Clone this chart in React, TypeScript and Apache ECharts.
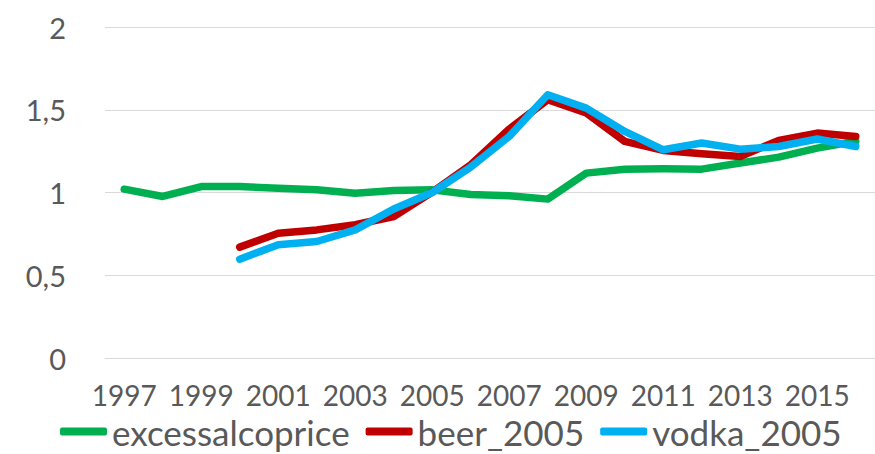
import React, { useEffect, useRef } from "react";
import * as echarts from "echarts";

const years = [
  "1997", "1998", "1999", "2000", "2001", "2002", "2003", "2004", "2005", "2006",
  "2007", "2008", "2009", "2010", "2011", "2012", "2013", "2014", "2015", "2016",
];
const excessalcoprice = [
  1.02, 0.976, 1.036, 1.036, 1.026, 1.016, 0.996, 1.012, 1.016, 0.988,
  0.98, 0.96, 1.117, 1.141, 1.143, 1.141, 1.178, 1.214, 1.268, 1.31,
];
const beer2005 = [
  null, null, null, 0.67, 0.754, 0.774, 0.805, 0.855, 1.003, 1.168,
  1.383, 1.561, 1.48, 1.309, 1.254, 1.234, 1.218, 1.315, 1.359, 1.339,
];
const vodka2005 = [
  null, null, null, 0.597, 0.684, 0.704, 0.774, 0.9, 1.0, 1.154,
  1.339, 1.591, 1.51, 1.369, 1.258, 1.299, 1.262, 1.278, 1.323, 1.278,
];
const yTicks = { min: 0, max: 2, interval: 0.5 };

const FONT = "Lato";
const TXT = "#595959";

export default function App() {
  const ref = useRef<HTMLDivElement>(null);
  useEffect(() => {
    document.body.style.margin = "0";
    const chart = echarts.init(ref.current!, null, { renderer: "svg" });
    const mk = (name: string, data: any[], color: string) => ({
      name,
      type: "line",
      data,
      showSymbol: false,
      symbol: "none",
      connectNulls: false,
      lineStyle: { color, width: 7.5, cap: "round", join: "round" },
      itemStyle: { color },
    });
    chart.setOption({
      animation: false,
      grid: { left: 105, top: 27, width: 784, height: 331, containLabel: false },
      xAxis: {
        type: "category",
        data: years,
        boundaryGap: true,
        axisLine: { show: true, lineStyle: { color: "#D9D9D9", width: 1 } },
        axisTick: { show: false },
        axisLabel: {
          interval: 1,
          color: TXT,
          fontFamily: FONT,
          fontSize: 28,
          lineHeight: 22,
          margin: 26,
        },
      },
      yAxis: {
        type: "value",
        min: yTicks.min,
        max: yTicks.max,
        interval: yTicks.interval,
        axisLine: { show: false },
        axisTick: { show: false },
        splitLine: { lineStyle: { color: "#D9D9D9", width: 1 } },
        axisLabel: {
          color: TXT,
          fontFamily: FONT,
          fontSize: 29,
          margin: 39,
          formatter: (v: number) => String(v).replace(".", ","),
        },
      },
      legend: {
        left: 60,
        top: 414,
        icon: "roundRect",
        itemWidth: 47,
        itemHeight: 8,
        itemGap: 16,
        padding: 0,
        textStyle: {
          color: TXT,
          fontFamily: FONT,
          fontSize: 35,
          lineHeight: 26,
          padding: [0, 0, 0, 0],
        },
        data: ["excessalcoprice", "beer_2005", "vodka_2005"],
      },
      series: [
        mk("excessalcoprice", excessalcoprice, "#00B050"),
        mk("beer_2005", beer2005, "#C00000"),
        mk("vodka_2005", vodka2005, "#00B0F0"),
      ],
    });
    return () => chart.dispose();
  }, []);
  return <div ref={ref} style={{ width: 875, height: 454, overflow: "hidden" }} />;
}
